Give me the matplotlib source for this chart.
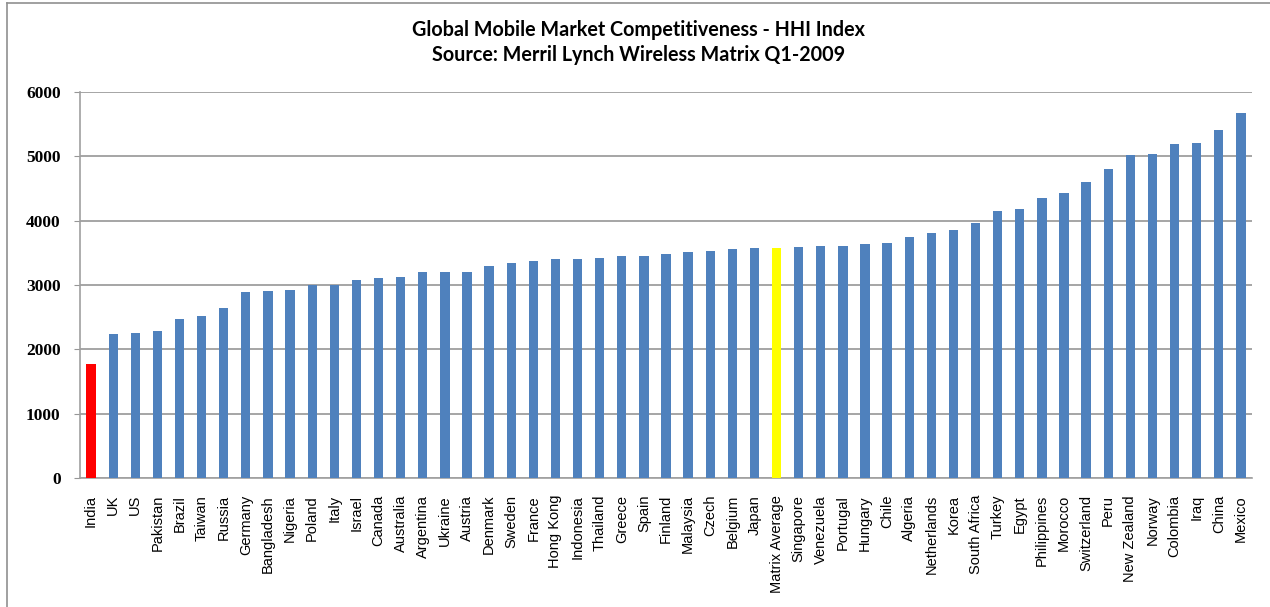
import numpy as np
import matplotlib.pyplot as plt
from matplotlib.lines import Line2D

countries = ['India', 'UK', 'US', 'Pakistan', 'Brazil', 'Taiwan', 'Russia', 'Germany',
             'Bangladesh', 'Nigeria', 'Poland', 'Italy', 'Israel', 'Canada', 'Australia',
             'Argentina', 'Ukraine', 'Austria', 'Denmark', 'Sweden', 'France', 'Hong Kong',
             'Indonesia', 'Thailand', 'Greece', 'Spain', 'Finland', 'Malaysia', 'Czech',
             'Belgium', 'Japan', 'Matrix Average', 'Singapore', 'Venezuela', 'Portugal',
             'Hungary', 'Chile', 'Algeria', 'Netherlands', 'Korea', 'South Africa', 'Turkey',
             'Egypt', 'Philippines', 'Morocco', 'Switzerland', 'Peru', 'New Zealand',
             'Norway', 'Colombia', 'Iraq', 'China', 'Mexico']
hhi = [1775, 2240, 2255, 2292, 2473, 2525, 2644, 2898,
       2913, 2929, 3002, 3002, 3080, 3111, 3127,
       3208, 3208, 3208, 3292, 3343, 3374, 3405,
       3405, 3426, 3457, 3457, 3478, 3509, 3525,
       3556, 3576, 3576, 3592, 3612, 3612,
       3633, 3649, 3747, 3814, 3861, 3965, 4146,
       4182, 4353, 4430, 4601, 4798, 5016,
       5036, 5186, 5207, 5404, 5672]
highlight = {'India': '#ff0000', 'Matrix Average': '#ffff00'}
yticks = [0, 1000, 2000, 3000, 4000, 5000, 6000]

fig = plt.figure(figsize=(12.7, 6.07), dpi=100)
ax = fig.add_axes([0.063, 0.212, 0.9228, 0.637])

x = np.arange(len(countries))
colors = [highlight.get(c, '#4f81bd') for c in countries]
ax.bar(x, hhi, width=0.42, color=colors, zorder=3)

ax.set_xlim(-0.5, len(countries) - 0.5)
ax.set_ylim(0, 6000)
ax.set_yticks(yticks)
ax.set_yticklabels([str(v) for v in yticks], family='Liberation Serif',
                   fontweight='bold', fontsize=12.5)
ax.yaxis.grid(True, color='#969696', linewidth=1.2, zorder=0)
ax.tick_params(axis='y', length=4, color='#969696', pad=10)

ax.set_xticks(x)
ax.set_xticklabels(countries, rotation=90, family='Liberation Sans', fontsize=10.5)
ax.tick_params(axis='x', length=0, pad=12)

for side in ['top', 'right']:
    ax.spines[side].set_visible(False)
for side in ['left', 'bottom']:
    ax.spines[side].set_color('#a0a0a0')
    ax.spines[side].set_linewidth(1.2)

fig.text(0.503, 0.950, 'Global Mobile Market Competitiveness - HHI Index',
         ha='center', va='center', family='Lato', fontweight='bold', fontsize=14.2)
fig.text(0.503, 0.909, 'Source: Merril Lynch Wireless Matrix Q1-2009',
         ha='center', va='center', family='Lato', fontweight='bold', fontsize=14.2)

# outer frame edges (left and top only)
fig.add_artist(Line2D([7 / 1270, 7 / 1270], [0, 1 - 3 / 607], color='#909090', linewidth=1.2))
fig.add_artist(Line2D([7 / 1270, 1], [1 - 3 / 607, 1 - 3 / 607], color='#909090', linewidth=1.2))

fig.savefig('out.png', dpi=100)
